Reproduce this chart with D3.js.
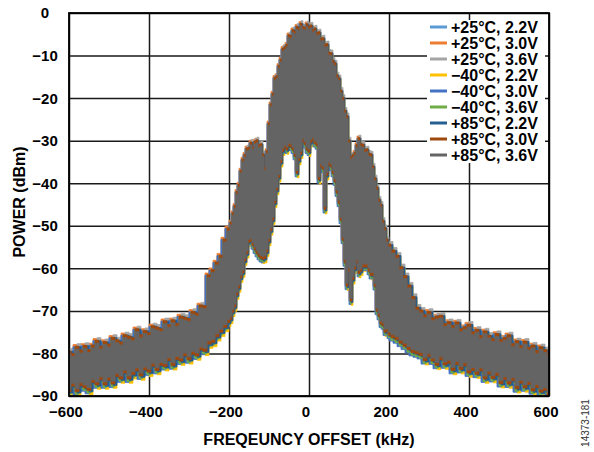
<!DOCTYPE html>
<html>
<head>
<meta charset="utf-8">
<script src="https://cdn.jsdelivr.net/npm/d3@7"></script>
<style>
  body { margin: 0; background: #fff; }
  svg text { font-family: "Liberation Sans", Arial, sans-serif; }
</style>
</head>
<body>
<div id="chart"></div>
<script>
// legend / series
var seriesNames = ["+25°C, 2.2V", "+25°C, 3.0V", "+25°C, 3.6V",
                   "\u221240°C, 2.2V", "\u221240°C, 3.0V", "\u221240°C, 3.6V",
                   "+85°C, 2.2V", "+85°C, 3.0V", "+85°C, 3.6V"];
var seriesColors = ["#5B9BD5", "#ED7D31", "#A5A5A5", "#FFC000", "#4472C4",
                    "#70AD47", "#255E91", "#9E480E", "#646464"];
// how far (dB) each trace pokes out above / below the +85°C 3.6V trace
var seriesTopOffset    = [0.5, 1.1, 1.3, 0.3, 0.6, 0.6, 0.6, 0.7, 0];
var seriesBottomOffset = [0.8, 0.3, 0.3, 1.7, 1.5, 1.3, 1.0, 0.7, 0];
// sample alignment of each trace (the traces were not sampled on the same bins)
var seriesStep = ["before", "before", "after", "after", "before", "center", "after", "center", "center"];

// frequency offset (kHz) and the peak / trough envelope (dBm) of the traces
var freqKHz = [
  -600,-590,-580,-570,-560,-550,-540,-530,-520,-510,-500,-490,-480,-470,-460,-450,-440,-430,-420,-410,
  -400,-390,-380,-370,-360,-350,-340,-330,-320,-310,-300,-290,-280,-270,-260,-250,-240,-230,-220,-210,
  -200,-195,-190,-185,-180,-175,-170,-165,-160,-155,-150,-145,-140,-135,-130,-125,-120,-115,-110,-105,
  -100,-95,-90,-85,-80,-75,-70,-65,-60,-55,-50,-45,-40,-35,-30,-25,-20,-15,-10,-5,
  0,5,10,15,20,25,30,35,40,45,50,55,60,65,70,75,80,85,90,95,
  100,105,110,115,120,125,130,135,140,145,150,155,160,165,170,175,180,185,190,195,
  200,210,220,230,240,250,260,270,280,290,300,310,320,330,340,350,360,370,380,390,
  400,410,420,430,440,450,460,470,480,490,500,510,520,530,540,550,560,570,580,590,600];
var upperDbm = [
  -80.1,-80.7,-79.0,-79.9,-78.8,-79.8,-78.7,-77.6,-79.0,-77.9,-78.5,-76.9,-77.5,-78.0,-76.3,-76.6,-77.0,-74.9,-76.3,-75.3,
  -75.8,-74.2,-74.5,-74.9,-73.0,-73.9,-72.8,-73.6,-71.9,-72.2,-72.5,-70.8,-71.2,-69.3,-69.5,-62.2,-61.0,-59.2,-57.6,-53.8,
  -51.2,-49.8,-47.6,-45.9,-42.6,-40.9,-37.6,-35.0,-33.9,-32.4,-32.2,-31.0,-32.0,-30.8,-30.5,-31.6,-31.4,-33.8,-37.0,-33.0,
  -26.5,-22.0,-19.5,-15.8,-15.4,-13.0,-11.5,-9.0,-8.6,-8.0,-5.8,-6.0,-4.6,-5.0,-3.8,-4.2,-3.1,-3.9,-4.0,-3.2,
  -3.9,-3.5,-4.6,-4.2,-5.3,-5.1,-6.6,-6.5,-8.0,-7.9,-9.9,-10.0,-11.8,-12.4,-15.2,-15.9,-18.8,-20.5,-23.5,-24.8,
  -30.5,-34.5,-34.0,-33.4,-31.6,-30.0,-31.4,-31.5,-32.8,-32.6,-33.6,-33.8,-36.6,-39.4,-41.6,-44.4,-45.6,-49.4,-51.1,-53.8,
  -55.0,-56.4,-57.6,-60.3,-62.4,-64.6,-67.3,-69.8,-70.5,-71.6,-70.8,-72.3,-71.9,-71.7,-73.7,-73.2,-74.1,-73.3,-74.9,-74.4,
  -73.8,-75.6,-75.0,-76.5,-75.4,-76.4,-77.2,-76.0,-77.4,-76.9,-76.3,-78.4,-77.7,-78.8,-77.8,-79.2,-78.7,-80.0,-79.1,-79.8,-80.6];
var lowerDbm = [
  -88.3,-87.0,-88.3,-86.9,-87.4,-88.0,-86.1,-86.7,-85.5,-86.7,-85.6,-86.5,-84.7,-85.3,-83.9,-85.3,-84.3,-83.4,-84.6,-83.2,
  -83.7,-82.3,-83.3,-82.1,-82.4,-81.0,-82.2,-80.7,-81.1,-79.9,-80.8,-79.5,-79.9,-78.5,-78.8,-77.1,-76.7,-75.4,-74.3,-73.2,
  -72.0,-71.3,-69.6,-68.4,-65.6,-63.9,-61.6,-60.4,-57.6,-55.9,-53.2,-53.0,-54.0,-55.0,-55.8,-56.5,-57.0,-57.2,-57.0,-55.5,
  -53.0,-50.5,-48.0,-44.0,-41.0,-38.0,-34.5,-31.8,-31.0,-31.5,-30.6,-30.8,-31.5,-33.0,-37.0,-34.0,-32.5,-29.5,-30.2,-31.5,
  -32.0,-29.8,-29.2,-30.0,-30.5,-38.5,-35.5,-36.0,-45.5,-37.5,-35.0,-35.5,-37.0,-39.0,-41.6,-44.0,-48.0,-52.7,-58.0,-63.5,
  -60.0,-67.0,-62.0,-59.5,-58.0,-60.5,-60.0,-59.0,-59.0,-59.0,-60.0,-61.0,-61.0,-63.6,-69.4,-70.6,-72.4,-72.8,-74.3,-74.2,
  -75.0,-75.6,-76.1,-76.9,-77.6,-78.4,-79.1,-79.4,-79.8,-81.0,-80.1,-81.1,-82.1,-80.8,-82.0,-81.6,-83.3,-81.9,-83.1,-82.2,
  -83.9,-83.3,-84.2,-83.4,-85.3,-84.2,-85.2,-84.5,-86.4,-85.5,-86.5,-85.7,-87.6,-86.3,-87.4,-86.6,-88.1,-87.3,-88.4,-88.0,-89.1];

var xTicks = [-600, -400, -200, 0, 200, 400, 600];
var yTicks = [0, -10, -20, -30, -40, -50, -60, -70, -80, -90];

drawSpectrum();

function fmtMinus(v){
    return v < 0 ? "\u2212" + Math.abs(v) : "" + v;
}

function drawSpectrum(){
    var W = 594, H = 452;
    var margin = { top: 13, right: 45, bottom: 56, left: 69 },
        width = W - margin.left - margin.right,
        height = H - margin.top - margin.bottom;

    var svg = d3.select("#chart").append("svg")
        .attr("width", W).attr("height", H);
    var g = svg.append("g")
        .attr("transform", "translate(" + margin.left + "," + margin.top + ")");

    var x = d3.scaleLinear().domain([-600, 600]).range([0, width]);
    var y = d3.scaleLinear().domain([-90, 0]).range([height, 0]);

    // grid
    g.append("g").attr("class", "grid")
        .call(d3.axisLeft(y).tickValues(yTicks).tickSize(-width).tickFormat(""));
    g.append("g").attr("class", "grid")
        .attr("transform", "translate(0," + height + ")")
        .call(d3.axisBottom(x).tickValues(xTicks).tickSize(-height).tickFormat(""));
    g.selectAll(".grid .domain").remove();
    g.selectAll(".grid line").attr("stroke", "#1a1a1a").attr("stroke-width", 1.5);

    // traces, last one on top
    g.append("clipPath").attr("id", "plotClip")
        .append("rect").attr("width", width).attr("height", height);
    var pts = freqKHz.map(function(f, i){ return { f: f, hi: upperDbm[i], lo: lowerDbm[i] }; });
    var curves = { before: d3.curveStepBefore, after: d3.curveStepAfter, center: d3.curveStep };
    var traces = g.append("g").attr("clip-path", "url(#plotClip)");
    seriesNames.forEach(function(name, s){
        var area = d3.area()
            .curve(curves[seriesStep[s]])
            .x(function(d){ return x(d.f); })
            .y0(function(d){ return y(d.lo - seriesBottomOffset[s]); })
            .y1(function(d){ return y(d.hi + seriesTopOffset[s]); });
        traces.append("path").datum(pts)
            .attr("fill", seriesColors[s])
            .attr("stroke", seriesColors[s])
            .attr("stroke-width", 0.8)
            .attr("d", area);
    });

    // legend
    var lg = g.append("g").attr("transform", "translate(" + (width - 122) + ",7)");
    lg.append("rect").attr("width", 118).attr("height", 143).attr("fill", "#fff");
    seriesNames.forEach(function(name, s){
        var ry = 7 + s * 16;
        lg.append("line").attr("x1", 3).attr("x2", 20).attr("y1", ry).attr("y2", ry)
            .attr("stroke", seriesColors[s]).attr("stroke-width", 3);
        lg.append("text").attr("x", 24).attr("y", ry).attr("dy", "0.36em")
            .attr("font-size", "16px").attr("font-weight", "bold").attr("fill", "#000")
            .text(name);
    });

    // frame
    g.append("rect").attr("width", width).attr("height", height)
        .attr("fill", "none").attr("stroke", "#000").attr("stroke-width", 1.8);

    // tick labels
    g.selectAll(".ylab").data(yTicks).enter().append("text")
        .attr("x", -24).attr("y", function(d){ return y(d); }).attr("dy", "0.36em")
        .attr("text-anchor", "middle").attr("font-size", "15px").attr("font-weight", "bold")
        .text(fmtMinus);
    g.selectAll(".xlab").data(xTicks).enter().append("text")
        .attr("x", function(d){ return x(d) - 3; }).attr("y", height + 20.5)
        .attr("text-anchor", "middle").attr("font-size", "15px").attr("font-weight", "bold")
        .text(fmtMinus);

    // axis titles
    g.append("text").attr("x", width / 2).attr("y", height + 49)
        .attr("text-anchor", "middle").attr("font-size", "16px").attr("font-weight", "bold")
        .text("FREQEUNCY OFFSET (kHz)");
    svg.append("text").attr("transform", "translate(19,202) rotate(-90)")
        .attr("dy", "0.36em").attr("text-anchor", "middle")
        .attr("font-size", "16px").attr("font-weight", "bold")
        .text("POWER (dBm)");
    svg.append("text").attr("transform", "translate(585,423) rotate(-90)")
        .attr("dy", "0.36em").attr("text-anchor", "middle")
        .attr("font-size", "10px").attr("fill", "#333")
        .text("14373-181");
}
</script>
</body>
</html>
